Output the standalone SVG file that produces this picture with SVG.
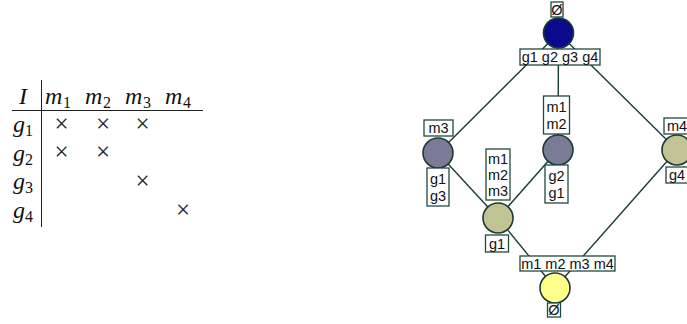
<svg xmlns="http://www.w3.org/2000/svg" width="687" height="324" viewBox="0 0 687 324">
  <style>
    .math { font-family: "Liberation Serif", "DejaVu Serif", serif; font-style: italic; font-size: 24px; fill: #111; }
    .sub { font-family: "Liberation Serif", "DejaVu Serif", serif; font-size: 16px; fill: #111; }
    .cross { font-family: "Liberation Serif", "DejaVu Serif", serif; font-size: 25px; fill: #222; text-anchor: middle; }
    .rule { stroke: #222; stroke-width: 1; fill: none; }
    .edge { stroke: #1b3b35; stroke-width: 1.4; fill: none; }
    .lbl { fill: #ffffff; stroke: #1f4a40; stroke-width: 1.3; }
    .txt { font-family: "Liberation Sans", Arial, sans-serif; font-size: 14.5px; fill: #111; text-anchor: middle; }
    .node { stroke: #1d3a33; stroke-width: 1.6; }
    .c-top { fill: #0a0a8c; }
    .c-grey { fill: #7b7b97; }
    .c-olive { fill: #c2c395; }
    .c-bottom { fill: #ffff8c; }
  </style>

  <!-- Cross table -->
  <g id="context-table">
    <line class="rule" x1="41.5" y1="80" x2="41.5" y2="227"/>
    <line class="rule" x1="12" y1="110.5" x2="203" y2="110.5"/>
    <text class="math" x="19" y="104">I</text>
    <text class="math" x="45" y="104">m</text><text class="sub" x="63" y="108">1</text>
    <text class="math" x="85" y="104">m</text><text class="sub" x="103" y="108">2</text>
    <text class="math" x="125" y="104">m</text><text class="sub" x="143" y="108">3</text>
    <text class="math" x="165" y="104">m</text><text class="sub" x="183" y="108">4</text>

    <text class="math" x="13" y="132">g</text><text class="sub" x="25" y="136">1</text>
    <text class="math" x="13" y="160.5">g</text><text class="sub" x="25" y="164.5">2</text>
    <text class="math" x="13" y="189">g</text><text class="sub" x="25" y="193">3</text>
    <text class="math" x="13" y="217.5">g</text><text class="sub" x="25" y="221.5">4</text>

    <text class="cross" x="61.5" y="131.5">×</text>
    <text class="cross" x="103" y="131.5">×</text>
    <text class="cross" x="142.5" y="131.5">×</text>
    <text class="cross" x="61.5" y="160">×</text>
    <text class="cross" x="103" y="160">×</text>
    <text class="cross" x="142.5" y="189">×</text>
    <text class="cross" x="183" y="218">×</text>
  </g>

  <!-- Lattice edges -->
  <g id="edges">
    <line class="edge" x1="558.5" y1="33" x2="438" y2="153"/>
    <line class="edge" x1="558.5" y1="33" x2="558" y2="150"/>
    <line class="edge" x1="558.5" y1="33" x2="677" y2="150"/>
    <line class="edge" x1="438" y1="153" x2="498" y2="218"/>
    <line class="edge" x1="558" y1="150" x2="498" y2="218"/>
    <line class="edge" x1="498" y1="218" x2="555" y2="288"/>
    <line class="edge" x1="677" y1="150" x2="555" y2="288"/>
  </g>

  <!-- Top concept -->
  <g id="node-top">
    <rect class="lbl" x="551" y="2" width="12" height="15"/>
    <text class="txt" x="557" y="14.5">Ø</text>
    <circle class="node c-top" cx="558.5" cy="33" r="15"/>
    <rect class="lbl" x="520" y="49" width="80" height="16"/>
    <text class="txt" x="560" y="62">g1 g2 g3 g4</text>
  </g>

  <!-- m3 concept -->
  <g id="node-m3">
    <rect class="lbl" x="424" y="120" width="29" height="16"/>
    <text class="txt" x="438.5" y="133">m3</text>
    <circle class="node c-grey" cx="438" cy="153" r="15"/>
    <rect class="lbl" x="427" y="168" width="22" height="38"/>
    <text class="txt" x="438" y="184">g1</text>
    <text class="txt" x="438" y="201">g3</text>
  </g>

  <!-- m1 m2 concept -->
  <g id="node-m1m2">
    <rect class="lbl" x="543.5" y="96" width="26" height="38"/>
    <text class="txt" x="556.5" y="112">m1</text>
    <text class="txt" x="556.5" y="129">m2</text>
    <circle class="node c-grey" cx="558" cy="150" r="15"/>
    <rect class="lbl" x="545" y="165" width="23" height="38"/>
    <text class="txt" x="556.5" y="181">g2</text>
    <text class="txt" x="556.5" y="198">g1</text>
  </g>

  <!-- m4 concept -->
  <g id="node-m4">
    <rect class="lbl" x="664" y="118" width="30" height="16"/>
    <text class="txt" x="677" y="131">m4</text>
    <circle class="node c-olive" cx="677" cy="150" r="15"/>
    <rect class="lbl" x="666" y="167" width="28" height="16"/>
    <text class="txt" x="677" y="180">g4</text>
  </g>

  <!-- m1 m2 m3 concept -->
  <g id="node-m1m2m3">
    <rect class="lbl" x="486" y="149" width="24" height="51"/>
    <text class="txt" x="498" y="164">m1</text>
    <text class="txt" x="498" y="180">m2</text>
    <text class="txt" x="498" y="196">m3</text>
    <circle class="node c-olive" cx="498" cy="218" r="15"/>
    <rect class="lbl" x="485.5" y="235" width="23" height="17"/>
    <text class="txt" x="497" y="248.5">g1</text>
  </g>

  <!-- Bottom concept -->
  <g id="node-bottom">
    <rect class="lbl" x="520" y="256" width="95" height="15"/>
    <text class="txt" x="567.5" y="268.5">m1 m2 m3 m4</text>
    <circle class="node c-bottom" cx="555" cy="288" r="15"/>
    <rect class="lbl" x="547.5" y="303" width="13" height="14"/>
    <text class="txt" x="554" y="315">Ø</text>
  </g>
</svg>
